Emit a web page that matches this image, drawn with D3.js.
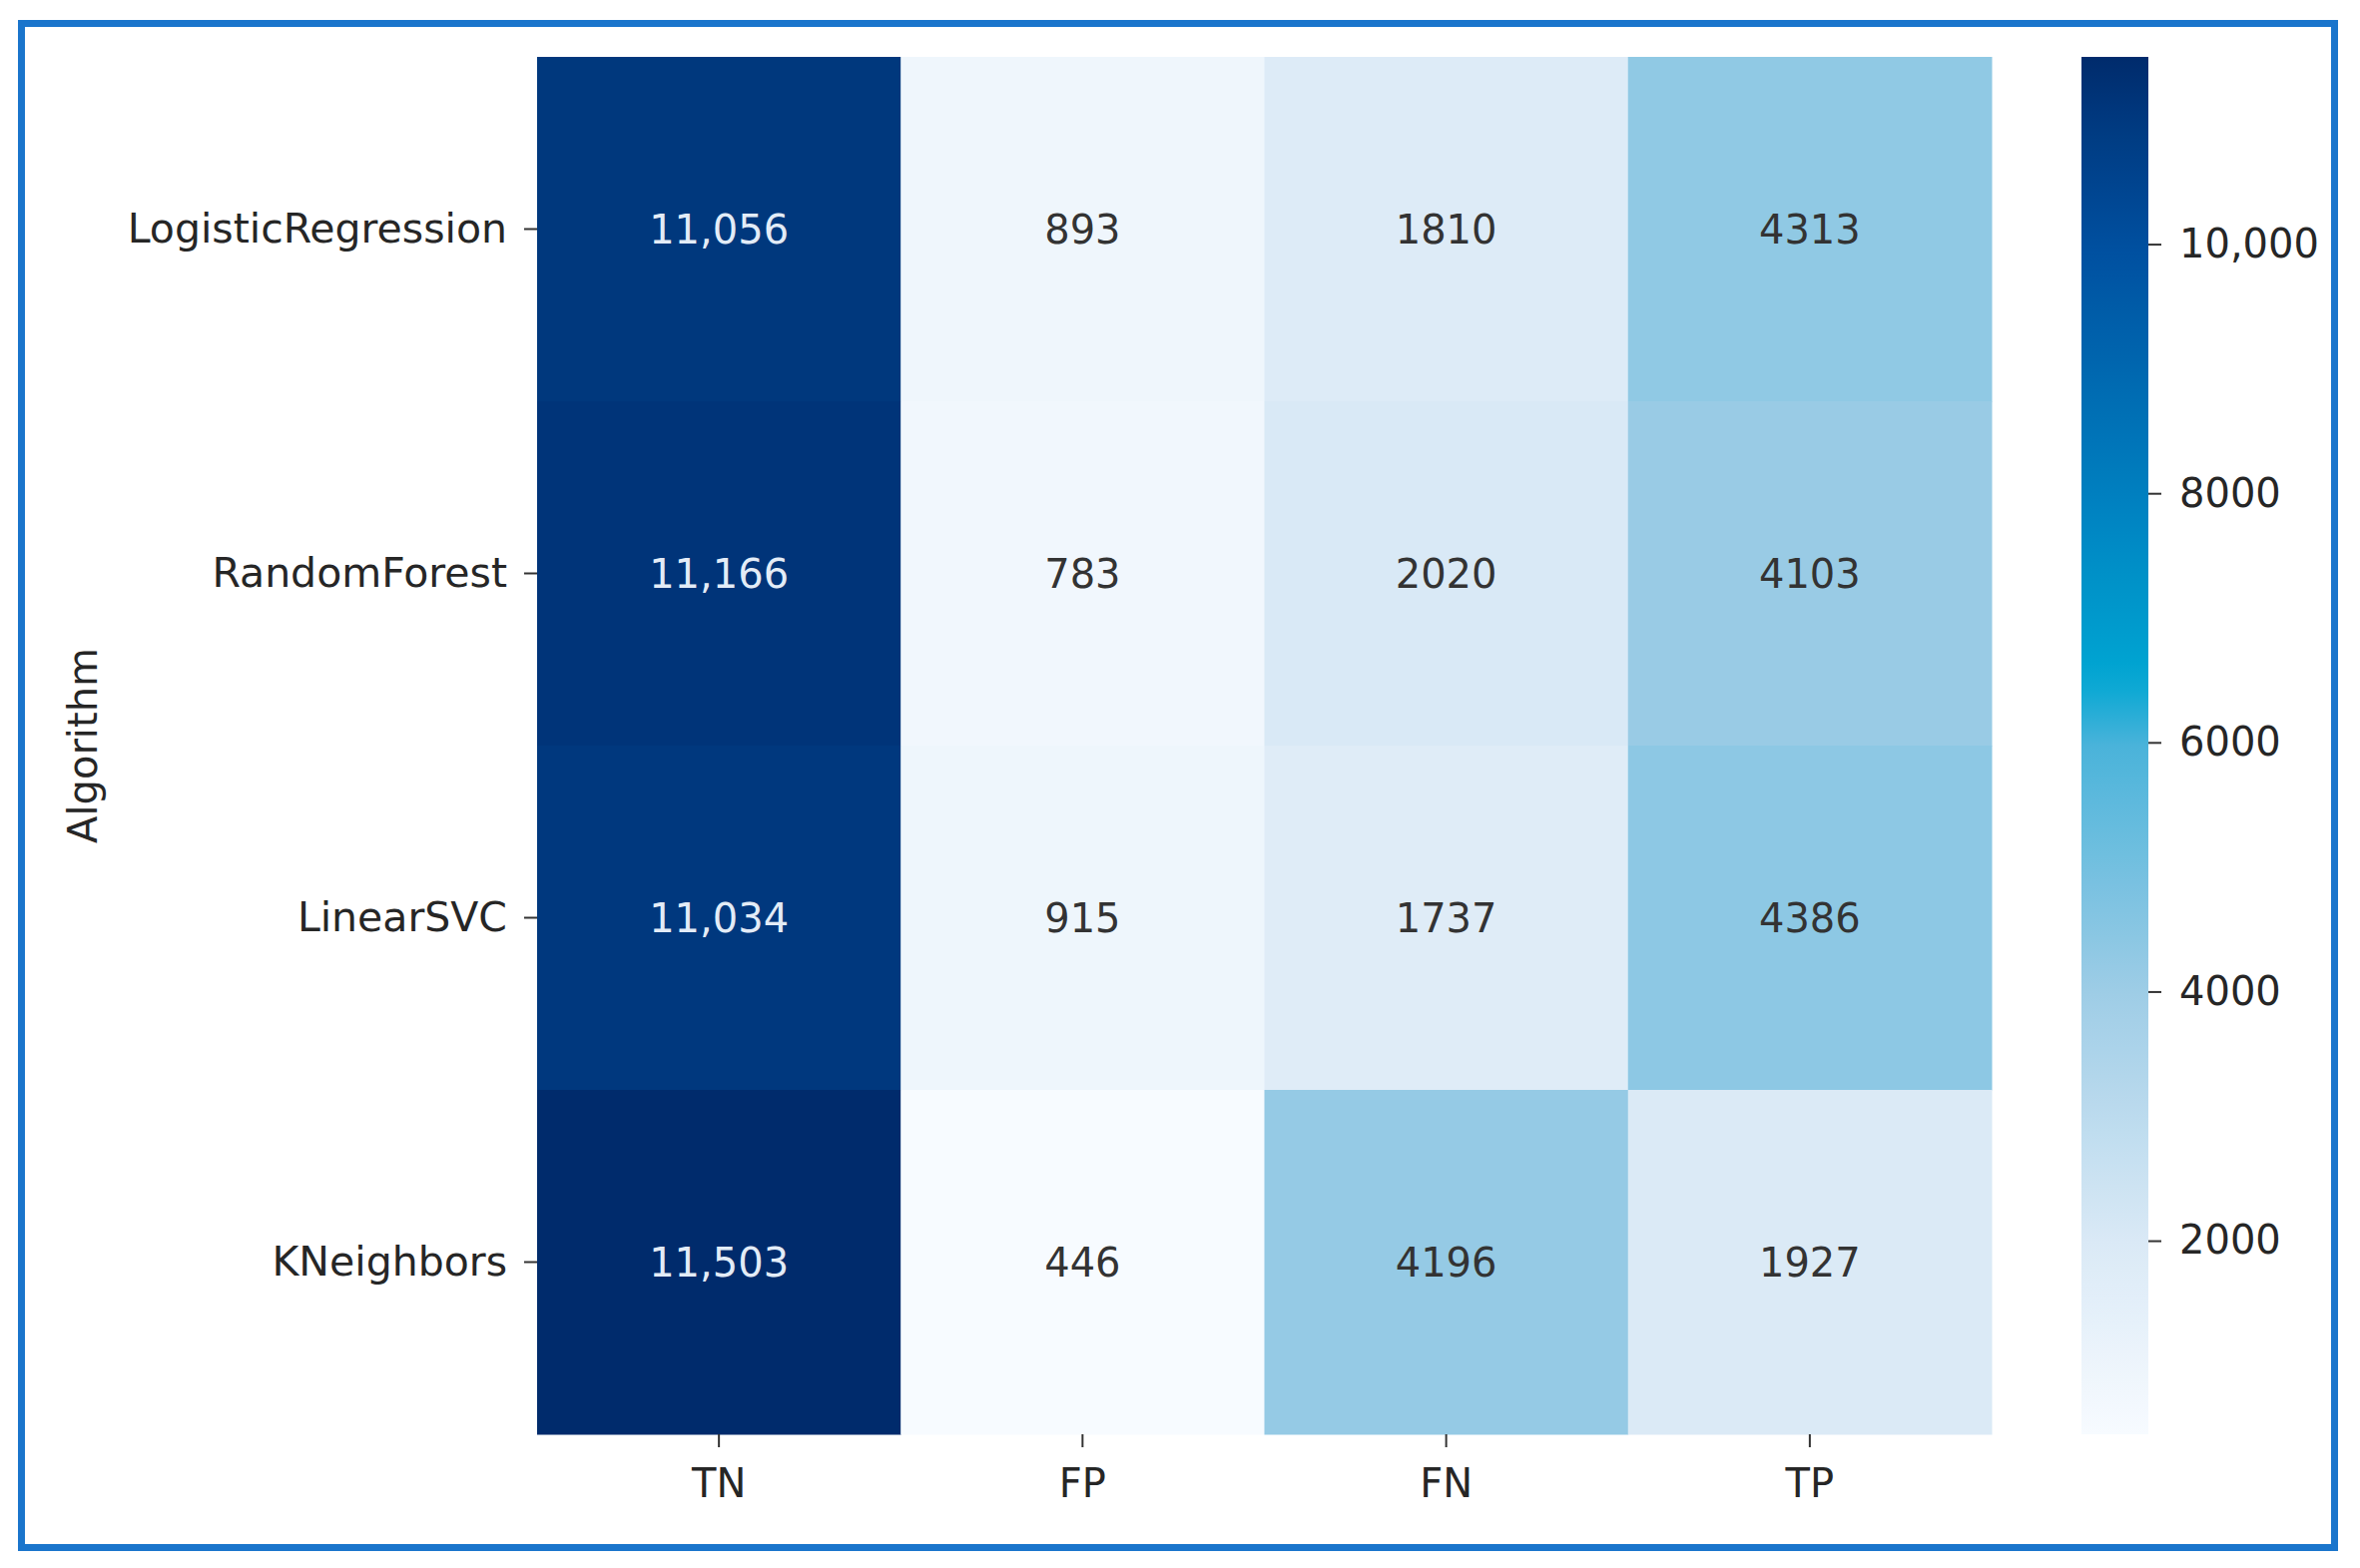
<!DOCTYPE html>
<html>
<head>
<meta charset="utf-8">
<script src="https://cdn.jsdelivr.net/npm/d3@7"></script>
<style>
  body { margin: 0; background: #fff; }
  text { font-family: "DejaVu Sans", sans-serif; }
</style>
</head>
<body>
<script>
let algorithms = ["LogisticRegression", "RandomForest", "LinearSVC", "KNeighbors"];
let metrics = ["TN", "FP", "FN", "TP"];
let tn = [11056, 11166, 11034, 11503];
let fp = [893, 783, 915, 446];
let fn = [1810, 2020, 1737, 4196];
let tp = [4313, 4103, 4386, 1927];
let colorbarTicks = [2000, 4000, 6000, 8000, 10000];

let width = 2364;
let height = 1571;

let cells = [];
algorithms.forEach((a, i) => {
  [tn, fp, fn, tp].forEach((s, j) => {
    cells.push({ algo: a, metric: metrics[j], value: s[i] });
  });
});

let vmin = d3.min(cells, (d) => d.value);
let vmax = d3.max(cells, (d) => d.value);

// colour ramp (fractions of the value range)
let stopT = [0, 0.14, 0.32, 0.5, 0.55, 0.68, 0.86, 0.955, 1];
let stopC = ["#f7fbff", "#dae9f6", "#9ecde6", "#4ab3da", "#00a6d2", "#0080c0", "#0050a0", "#00397f", "#002b6c"];
let color = d3
  .scaleLinear()
  .domain(stopT.map((t) => vmin + t * (vmax - vmin)))
  .range(stopC)
  .interpolate(d3.interpolateRgb);

let xScale = d3.scaleBand().domain(metrics).range([538, 1995]);
let yScale = d3.scaleBand().domain(algorithms).range([57, 1437]);
let cScale = d3.scaleLinear().domain([vmin, vmax]).range([1437, 57]);

let svg = d3
  .select("body")
  .append("svg")
  .attr("width", width)
  .attr("height", height);

// frame
svg
  .append("rect")
  .attr("x", 21.5)
  .attr("y", 23.5)
  .attr("width", 2317)
  .attr("height", 1527)
  .attr("fill", "none")
  .attr("stroke", "#1a75cc")
  .attr("stroke-width", 7);

svg
  .selectAll("rect.cell")
  .data(cells)
  .enter()
  .append("rect")
  .attr("class", "cell")
  .attr("x", (d) => xScale(d.metric))
  .attr("y", (d) => yScale(d.algo))
  .attr("width", xScale.bandwidth() + 0.5)
  .attr("height", yScale.bandwidth() + 0.5)
  .attr("fill", (d) => color(d.value));

let fmt = (d) => (d >= 10000 ? d3.format(",")(d) : String(d));

svg
  .selectAll("text.annot")
  .data(cells)
  .enter()
  .append("text")
  .attr("class", "annot")
  .attr("x", (d) => xScale(d.metric) + xScale.bandwidth() / 2)
  .attr("y", (d) => yScale(d.algo) + yScale.bandwidth() / 2)
  .attr("dy", "0.35em")
  .attr("text-anchor", "middle")
  .attr("font-size", 40)
  .attr("fill", (d) => (d3.hsl(color(d.value)).l < 0.5 ? "#e3ecf7" : "#333333"))
  .text((d) => fmt(d.value));

// axes
let xAxis = svg
  .append("g")
  .attr("transform", "translate(0,1437)")
  .call(d3.axisBottom(xScale).tickSize(13).tickPadding(22));
let yAxis = svg
  .append("g")
  .attr("transform", "translate(538,0)")
  .call(d3.axisLeft(yScale).tickSize(13).tickPadding(17));

[xAxis, yAxis].forEach((g) => {
  g.select(".domain").remove();
  g.selectAll(".tick line").attr("stroke", "#333").attr("stroke-width", 2);
  g.selectAll(".tick text")
    .attr("font-size", 40)
    .attr("fill", "#262626")
    .style("font-family", "DejaVu Sans");
});
yAxis.selectAll(".tick text").attr("font-size", 41);

svg
  .append("text")
  .attr("transform", "translate(83,747) rotate(-90)")
  .attr("text-anchor", "middle")
  .attr("dy", "0.35em")
  .attr("font-size", 40)
  .attr("fill", "#262626")
  .text("Algorithm");

// colorbar
let defs = svg.append("defs");
let grad = defs
  .append("linearGradient")
  .attr("id", "cbar")
  .attr("x1", 0)
  .attr("y1", 1)
  .attr("x2", 0)
  .attr("y2", 0);
d3.range(0, 1.0001, 0.02).forEach((t) => {
  grad
    .append("stop")
    .attr("offset", t)
    .attr("stop-color", color(vmin + t * (vmax - vmin)));
});

svg
  .append("rect")
  .attr("x", 2085)
  .attr("y", 57)
  .attr("width", 67)
  .attr("height", 1380)
  .attr("fill", "url(#cbar)");

let cAxis = svg
  .append("g")
  .attr("transform", "translate(2152,0)")
  .call(
    d3
      .axisRight(cScale)
      .tickValues(colorbarTicks)
      .tickFormat(fmt)
      .tickSize(13)
      .tickPadding(18)
  );
cAxis.select(".domain").remove();
cAxis.selectAll(".tick line").attr("stroke", "#333").attr("stroke-width", 2);
cAxis
  .selectAll(".tick text")
  .attr("font-size", 40)
  .attr("fill", "#262626")
  .style("font-family", "DejaVu Sans");
</script>
</body>
</html>
